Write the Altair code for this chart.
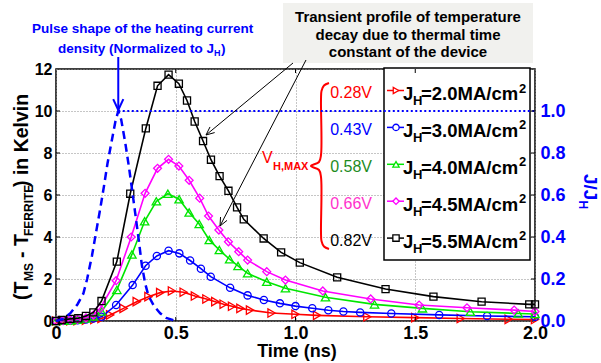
import altair as alt
import numpy as np
import pandas as pd

FONT = "Liberation Sans"

# ---------------- data ----------------
t_20 = [0, 0.03, 0.06, 0.09, 0.125, 0.16, 0.19, 0.226, 0.282, 0.337, 0.386, 0.435, 0.484, 0.533, 0.58,
        0.628, 0.665, 0.7, 0.735, 0.77, 0.81, 0.9, 1.0, 1.09, 1.3, 1.5, 1.69, 1.89, 2.0]
v_20 = [0, 0.005, 0.01, 0.02, 0.04, 0.07, 0.12, 0.29, 0.6, 0.92, 1.16, 1.35, 1.43, 1.37, 1.19,
        1.05, 0.92, 0.8, 0.7, 0.6, 0.52, 0.38, 0.32, 0.27, 0.2, 0.16, 0.12, 0.08, 0.07]

t_30 = [0, 0.03, 0.06, 0.09, 0.125, 0.156, 0.19, 0.251, 0.32, 0.374, 0.421, 0.47, 0.515, 0.56, 0.605,
        0.646, 0.727, 0.8, 0.868, 0.935, 1.0, 1.07, 1.137, 1.2, 1.27, 1.4, 1.6, 1.8, 2.0]
v_30 = [0, 0.01, 0.02, 0.04, 0.07, 0.12, 0.2, 0.76, 1.71, 2.63, 3.1, 3.35, 3.22, 2.88, 2.49,
        2.11, 1.58, 1.22, 1.0, 0.84, 0.71, 0.61, 0.51, 0.45, 0.41, 0.36, 0.29, 0.24, 0.2]

t_40 = [0, 0.03, 0.06, 0.09, 0.125, 0.156, 0.19, 0.254, 0.317, 0.37, 0.419, 0.467, 0.514, 0.556,
        0.598, 0.64, 0.682, 0.725, 0.76, 0.8, 0.88, 0.958, 1.125, 1.33, 1.53, 1.73, 1.93, 2.0]
v_40 = [0, 0.01, 0.03, 0.06, 0.12, 0.22, 0.45, 1.48, 3.17, 4.75, 5.7, 6.06, 5.8, 5.17,
        4.62, 3.86, 3.38, 2.94, 2.62, 2.27, 1.87, 1.56, 1.13, 0.79, 0.6, 0.44, 0.36, 0.33]

t_45 = [0, 0.03, 0.06, 0.09, 0.125, 0.156, 0.184, 0.251, 0.314, 0.372, 0.424, 0.47, 0.513, 0.556,
        0.6, 0.637, 0.68, 0.72, 0.763, 0.8, 0.88, 0.958, 1.114, 1.314, 1.516, 1.716, 1.913, 2.0]
v_45 = [0, 0.02, 0.05, 0.08, 0.15, 0.28, 0.6, 1.92, 4.0, 6.08, 7.27, 7.7, 7.38, 6.7,
        5.85, 5.0, 4.33, 3.77, 3.3, 2.9, 2.35, 1.95, 1.43, 1.05, 0.76, 0.63, 0.52, 0.45]

t_55 = [0, 0.024, 0.059, 0.093, 0.125, 0.156, 0.19, 0.254, 0.31, 0.375, 0.424, 0.47, 0.513, 0.547,
        0.579, 0.614, 0.647, 0.683, 0.72, 0.756, 0.784, 0.867, 0.94, 1.018, 1.174, 1.376, 1.576,
        1.777, 1.976, 2.0]
v_55 = [0, 0.05, 0.1, 0.13, 0.24, 0.41, 0.95, 2.83, 6.06, 9.17, 11.2, 11.73, 11.3, 10.5,
        9.5, 8.57, 7.68, 6.9, 6.2, 5.41, 4.84, 3.93, 3.27, 2.78, 2.08, 1.52, 1.16,
        0.92, 0.79, 0.79]

pulse_t = [0, 0.03, 0.06, 0.09, 0.114, 0.13, 0.15, 0.17, 0.184, 0.2, 0.215, 0.233, 0.248, 0.26,
           0.272, 0.289, 0.305, 0.317, 0.33, 0.344, 0.358, 0.372, 0.386, 0.41, 0.435, 0.46, 0.49]
pulse_r = [0, 0.01, 0.037, 0.08, 0.13, 0.2, 0.31, 0.44, 0.53, 0.64, 0.75, 0.86, 0.95, 1.0,
           0.96, 0.85, 0.73, 0.63, 0.52, 0.4, 0.27, 0.18, 0.12, 0.07, 0.037, 0.015, 0.004]

pulse_peak_t = 0.26
pulse_level = 1.0

j_values = ["2.0", "3.0", "4.0", "4.5", "5.5"]
volt_labels = ["0.28V", "0.43V", "0.58V", "0.66V", "0.82V"]
line_colors = ["#ff0000", "#0000ff", "#00e600", "#ff00ff", "#000000"]
volt_colors = ["#ff0000", "#0000ff", "#1e8c1e", "#ff33cc", "#000000"]
shapes = ["triangle-right", "circle", "triangle-up", "diamond", "square"]
shape_sizes = [70, 52, 70, 62, 50]
series = [(t_20, v_20), (t_30, v_30), (t_40, v_40), (t_45, v_45), (t_55, v_55)]

x_ticks = [0, 0.5, 1.0, 1.5, 2.0]
y_ticks = [0, 2, 4, 6, 8, 10, 12]
r_ticks = [0.0, 0.2, 0.4, 0.6, 0.8, 1.0]

# ---------------- layout ----------------
W, H = 479, 252
X0, Y0 = 56, 69
XMAX, YMAX, RMAX = 2.0, 12.0, 1.2


def tx(px):
    return (np.asarray(px, dtype=float) - X0) / W * XMAX


def vy(py):
    return (Y0 + H - np.asarray(py, dtype=float)) / H * YMAX


def pxx(t):
    return X0 + t / XMAX * W


def pyy(v):
    return Y0 + H - v / YMAX * H


xs = alt.Scale(domain=[0, XMAX], nice=False, zero=False)
ys = alt.Scale(domain=[0, YMAX], nice=False, zero=False)
rs = alt.Scale(domain=[0, RMAX], nice=False, zero=False)

common = dict(labelFont=FONT, labelFontWeight="bold", labelFlush=False, labelOverlap=False,
              ticks=False, tickSize=0, domain=False, title="")
x_axis = alt.Axis(values=x_ticks,
                  labelExpr="datum.value == 0 ? '0' : format(datum.value, '.1f')",
                  grid=True, gridDash=[1, 2], gridColor="#8c8c8c", gridWidth=1,
                  labelFontSize=18, labelColor="black", labelPadding=3, **common)
y_axis = alt.Axis(values=y_ticks, format="d", grid=True, gridDash=[1, 2], gridColor="#8c8c8c",
                  gridWidth=1, labelFontSize=16, labelColor="black", labelPadding=4, **common)
r_axis = alt.Axis(orient="right", values=r_ticks, format=".1f", grid=False, labelFontSize=18,
                  labelColor="#0000ff", labelPadding=5, **common)


def X(f):
    return alt.X(f"{f}:Q", scale=xs, axis=x_axis)


def Y(f):
    return alt.Y(f"{f}:Q", scale=ys, axis=y_axis)


def seg_layer(rows, width=1.0, dash=None):
    df = pd.DataFrame(rows, columns=["px", "py", "px2", "py2", "color"])
    df["t"], df["v"] = tx(df.px), vy(df.py)
    df["t2"], df["v2"] = tx(df.px2), vy(df.py2)
    kw = {"strokeWidth": width}
    if dash:
        kw["strokeDash"] = dash
    return alt.Chart(df).mark_rule(**kw).encode(
        x=X("t"), y=Y("v"), x2="t2", y2="v2", color=alt.Color("color:N", scale=None))


def text_layer(rows, align="left", weight="bold", baseline="alphabetic", angle=0):
    df = pd.DataFrame(rows, columns=["px", "py", "text", "size", "color"])
    df["t"], df["v"] = tx(df.px), vy(df.py)
    kw = dict(align=align, baseline=baseline, fontWeight=weight, font=FONT)
    if angle:
        kw["angle"] = angle
    return alt.Chart(df).mark_text(**kw).encode(
        x=X("t"), y=Y("v"), text="text:N",
        size=alt.Size("size:Q", scale=None), color=alt.Color("color:N", scale=None))


def rect_layer(x1, y1, x2, y2, **kw):
    df = pd.DataFrame({"t": [float(tx(x1))], "v": [float(vy(y1))],
                       "t2": [float(tx(x2))], "v2": [float(vy(y2))]})
    return alt.Chart(df).mark_rect(**kw).encode(x=X("t"), y=Y("v"), x2="t2", y2="v2")


def head(tip, tail, color, L=9.0, ang=24.0):
    d = np.array(tip, float) - np.array(tail, float)
    d /= np.linalg.norm(d)
    rows = []
    for s in (1, -1):
        a = np.radians(s * ang)
        b = np.array([[np.cos(a), -np.sin(a)], [np.sin(a), np.cos(a)]]) @ (-d)
        rows.append((tip[0] + L * b[0], tip[1] + L * b[1], tip[0], tip[1], color))
    return rows


layers = []

# callout box (above plot)
layers.append(rect_layer(283, 3, 533, 63, fill="#f1f1ee"))

# data series
for i, (t, v) in enumerate(series):
    df = pd.DataFrame({"t": t, "v": v})
    base = alt.Chart(df)
    layers.append(base.mark_line(color=line_colors[i], strokeWidth=1.6).encode(x=X("t"), y=Y("v")))
    layers.append(base.mark_point(shape=shapes[i], color=line_colors[i], filled=False,
                                  size=shape_sizes[i], strokeWidth=1.3, opacity=1,
                                  fill="white", fillOpacity=0).encode(x=X("t"), y=Y("v")))

# legend box
layers.append(rect_layer(384, 68, 530, 260, fill="white", stroke="black", strokeWidth=1.5))

base_lines = [100 + 36.9 * i for i in range(5)]
leg_seg, leg_pts, leg_main, leg_sub, volt_rows = [], [], [], [], []
for i in range(5):
    b = base_lines[i]
    cy = b - 9.5
    leg_seg.append((387, cy, 404, cy, line_colors[i]))
    leg_pts.append({"px": 396, "py": cy, "shape": shapes[i], "color": line_colors[i]})
    leg_main.append((403, b, "J", 18.5, "black"))
    leg_main.append((421, b, f"={j_values[i]}MA/cm", 18.5, "black"))
    leg_sub.append((413, b + 5, "H", 13, "black"))
    leg_sub.append((519, b - 7.5, "2", 13, "black"))
    volt_rows.append((372, b - 2, volt_labels[i], 16, volt_colors[i]))

layers.append(seg_layer(leg_seg, width=1.5))
lp = pd.DataFrame(leg_pts)
lp["t"], lp["v"] = tx(lp.px), vy(lp.py)
layers.append(alt.Chart(lp).mark_point(filled=False, size=40, strokeWidth=1.3, opacity=1,
                                       fill="white", fillOpacity=1).encode(
    x=X("t"), y=Y("v"), shape=alt.Shape("shape:N", scale=None), color=alt.Color("color:N", scale=None)))
layers.append(text_layer(leg_main))
layers.append(text_layer(leg_sub))
layers.append(text_layer(volt_rows, align="right", weight="normal"))

# red brace + V_H,MAX
brace = [(329, 83), (324, 85.5), (321.5, 91), (321, 100), (321, 155), (319, 162), (311, 166),
         (319, 170), (321, 177), (321, 232), (321.5, 241), (324, 246.5), (329, 249)]
bdf = pd.DataFrame(brace, columns=["px", "py"])
bdf["t"], bdf["v"], bdf["o"] = tx(bdf.px), vy(bdf.py), range(len(bdf))
layers.append(alt.Chart(bdf).mark_line(color="#ff0000", strokeWidth=2, interpolate="catmull-rom").encode(
    x=X("t"), y=Y("v"), order="o:Q"))
layers.append(text_layer([(262, 163, "V", 16, "#ff0000")], weight="normal"))
layers.append(text_layer([(273, 170, "H,MAX", 11, "#ff0000")]))

# blue dotted level line (J/J_H = 1)
layers.append(seg_layer([(pxx(pulse_peak_t), pyy(pulse_level * 10), pxx(XMAX), pyy(pulse_level * 10),
                          "#0000ff")], width=2, dash=[2, 2.5]))

# pulse caption + arrow
layers.append(text_layer([(32, 33, "Pulse shape of the heating current", 13.5, "#0000ff"),
                          (58, 53, "density (Normalized to J", 13.5, "#0000ff"),
                          (221, 53, ")", 13.5, "#0000ff")]))
layers.append(text_layer([(214, 56, "H", 9, "#0000ff")]))
tipb = (pxx(pulse_peak_t), pyy(pulse_level * 10) - 1)
layers.append(seg_layer([(tipb[0], 57, tipb[0], tipb[1], "#0000ff")] +
                        head(tipb, (tipb[0], 57), "#0000ff", L=12, ang=25), width=2))

# callout text + arrows
layers.append(text_layer([(408, 21.5, "Transient profile of temperature", 15, "black"),
                          (408, 39.5, "decay due to thermal time", 15, "black"),
                          (408, 57, "constant of the device", 15, "black")], align="center"))
a1_tail, a1_tip = (293, 63), (206, 135)
a2_tail, a2_tip = (306, 60), (220, 226)
layers.append(seg_layer([(a1_tail[0], a1_tail[1], a1_tip[0], a1_tip[1], "black"),
                         (a2_tail[0], a2_tail[1], a2_tip[0], a2_tip[1], "black")] +
                        head(a1_tip, a1_tail, "black") + head(a2_tip, a2_tail, "black"), width=1))

# inward ticks
tick_rows = []
for t in x_ticks[1:-1]:
    tick_rows.append((pxx(t), Y0 + H, pxx(t), Y0 + H - 4, "black"))
    tick_rows.append((pxx(t), Y0, pxx(t), Y0 + 4, "black"))
for v in y_ticks[1:-1]:
    tick_rows.append((X0, pyy(v), X0 + 4, pyy(v), "black"))
    tick_rows.append((X0 + W, pyy(v), X0 + W - 4, pyy(v), "black"))
layers.append(seg_layer(tick_rows, width=1))

# axis titles
layers.append(text_layer([(22, 300, "(T", 19.5, "black"),
                          (22, 258, "- T", 19.5, "black"),
                          (22, 187, ") in Kelvin", 19.5, "black")], baseline="middle", angle=270))
layers.append(text_layer([(29, 281, "MS", 12, "black"),
                          (29, 236, "FERRITE", 12, "black")], baseline="middle", angle=270))
layers.append(text_layer([(590, 174, "J/J", 19, "#0000ff")], baseline="middle", angle=90))
layers.append(text_layer([(583, 200.5, "H", 12, "#0000ff")], baseline="middle", angle=90))
layers.append(text_layer([(297, 357, "Time (ns)", 18, "black")], align="center"))

left = alt.layer(*layers)

pdf = pd.DataFrame({"t": pulse_t, "r": pulse_r})
right = alt.Chart(pdf).mark_line(color="#0000ff", strokeWidth=2.5, strokeDash=[8, 5]).encode(
    x=X("t"), y=alt.Y("r:Q", scale=rs, axis=r_axis))

chart = alt.layer(left, right).resolve_scale(y="independent").properties(
    width=W, height=H,
    padding={"left": X0, "top": Y0, "right": 601 - X0 - W, "bottom": 363 - Y0 - H},
    autosize=alt.AutoSizeParams(type="none"),
).configure(background="white").configure_view(stroke="black", strokeWidth=1.5)

chart.save("out.html", embed_options={"renderer": "svg", "actions": False})
